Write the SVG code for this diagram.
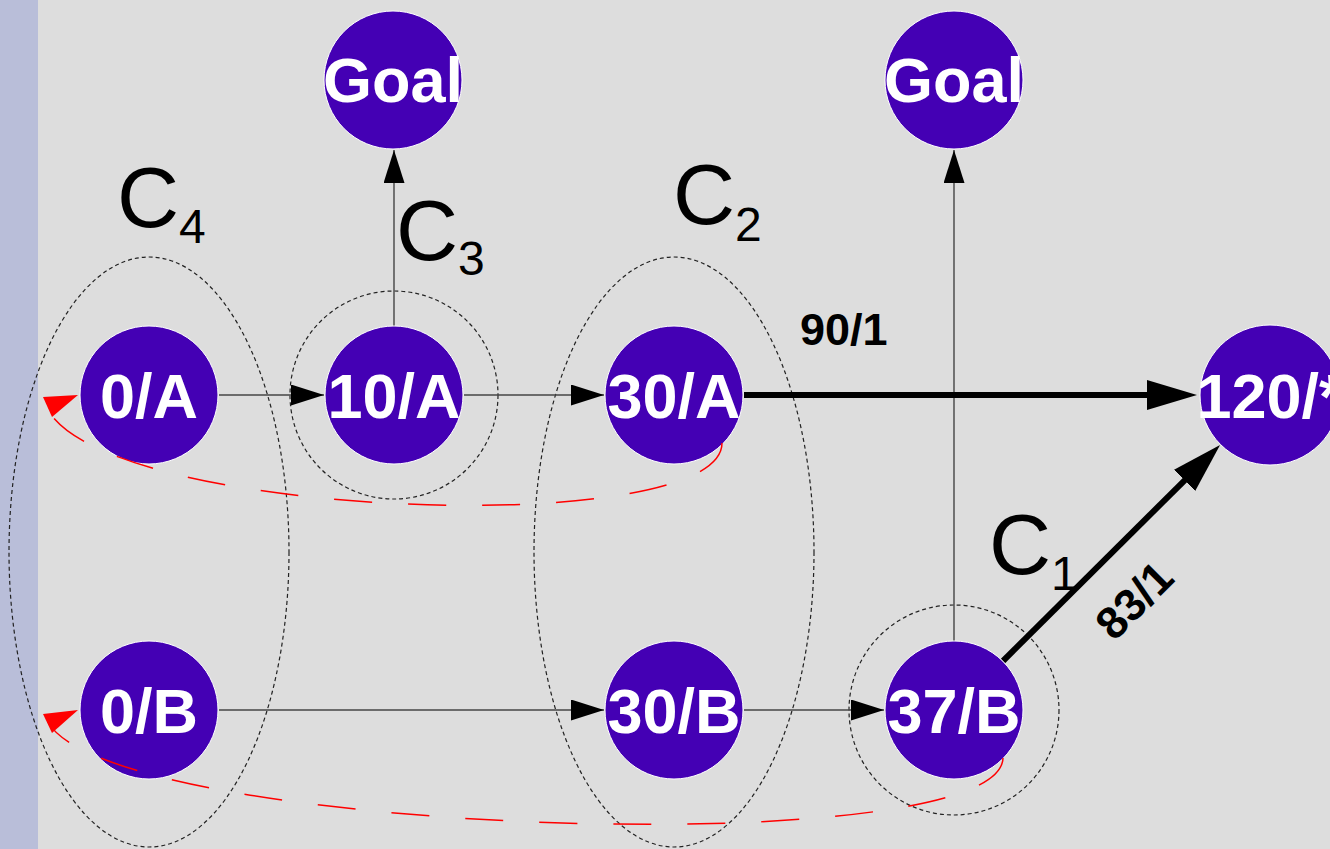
<svg xmlns="http://www.w3.org/2000/svg" width="1330" height="849" viewBox="0 0 1330 849">
<style>
.node circle{fill:#4400b4;stroke:#ffffff;stroke-width:1}
.node text{font-family:"Liberation Sans",Arial,sans-serif;font-weight:bold;font-size:63px;fill:#ffffff;text-anchor:middle}
.thin{stroke:#444;stroke-width:1.4;fill:none;marker-end:url(#ah)}
.thick{stroke:#000;stroke-width:6;fill:none;marker-end:url(#ahb)}
.grp{fill:none;stroke:#222;stroke-width:1.2;stroke-dasharray:4 3}
.red{fill:none;stroke:#ff0000;stroke-width:1.5;stroke-dasharray:38 36}
.lbl{font-family:"Liberation Sans",Arial,sans-serif;fill:#000}
</style>
<defs>
<marker id="ah" markerUnits="userSpaceOnUse" markerWidth="34" markerHeight="22" refX="33" refY="10.5" orient="auto">
<path d="M0,0 L33,10.5 L0,21 z" fill="#000"/>
</marker>
<marker id="ahb" markerUnits="userSpaceOnUse" markerWidth="52" markerHeight="32" refX="10" refY="15" orient="auto">
<path d="M0,0 L50,15 L0,30 z" fill="#000"/>
</marker>
</defs>
<rect x="0" y="0" width="1330" height="849" fill="#dddddd"/>
<rect x="0" y="0" width="38" height="849" fill="#b9bed9"/>

<g id="groups">
<ellipse class="grp" cx="149" cy="552" rx="140" ry="295"/>
<circle class="grp" cx="394" cy="395" r="104"/>
<ellipse class="grp" cx="674" cy="552" rx="140" ry="295"/>
<circle class="grp" cx="954" cy="710" r="105"/>
</g>

<g id="connectors">
<line class="thin" x1="219" y1="395" x2="324" y2="395"/>
<line class="thin" x1="464" y1="395" x2="604" y2="395"/>
<line class="thin" x1="394" y1="326" x2="394" y2="150"/>
<line class="thin" x1="954" y1="641" x2="954" y2="150"/>
<line class="thin" x1="219" y1="710" x2="604" y2="710"/>
<line class="thin" x1="744" y1="710" x2="884" y2="710"/>
<line class="thick" x1="744" y1="395" x2="1157" y2="395"/>
<line class="thick" x1="1003" y1="661" x2="1191.7" y2="473.3"/>
</g>

<g id="n-0A" class="node"><circle cx="149" cy="395" r="69"/><text x="149" y="418">0/A</text></g>
<g id="n-10A" class="node"><circle cx="394" cy="395" r="69"/><text x="394" y="418">10/A</text></g>
<g id="n-30A" class="node"><circle cx="674" cy="395" r="69"/><text x="674" y="418">30/A</text></g>
<g id="n-120" class="node"><circle cx="1270" cy="395" r="70"/><text x="1270" y="418">120/*</text></g>
<g id="n-goal1" class="node"><circle cx="393" cy="80" r="69"/><text x="393" y="102">Goal</text></g>
<g id="n-goal2" class="node"><circle cx="954" cy="80" r="69"/><text x="954" y="102">Goal</text></g>
<g id="n-0B" class="node"><circle cx="149" cy="710" r="69"/><text x="149" y="733">0/B</text></g>
<g id="n-30B" class="node"><circle cx="674" cy="710" r="69"/><text x="674" y="733">30/B</text></g>
<g id="n-37B" class="node"><circle cx="954" cy="710" r="69"/><text x="954" y="733">37/B</text></g>

<g id="backtracks">
<path class="red" d="M722,443 C722,540 110,520 48,410"/>
<polygon points="43,397 78,395 52,417" fill="#ff0000"/>
<path class="red" d="M1003,758 C1000,865 110,835 48,722"/>
<polygon points="43,714 78,710 52,733" fill="#ff0000"/>
</g>

<g id="labels">
<text class="lbl" x="117" y="227" font-size="86">C<tspan font-size="48" dy="16">4</tspan></text>
<text class="lbl" x="396" y="260" font-size="86">C<tspan font-size="48" dy="15">3</tspan></text>
<text class="lbl" x="673" y="224" font-size="86">C<tspan font-size="48" dy="17">2</tspan></text>
<text class="lbl" x="989" y="574" font-size="86">C<tspan font-size="48" dy="16">1</tspan></text>
<text class="lbl" x="800" y="345" font-size="45" font-weight="bold">90/1</text>
<text class="lbl" x="1134" y="616" font-size="45" font-weight="bold" text-anchor="middle" transform="rotate(-45 1134 600)">83/1</text>
</g>
</svg>
